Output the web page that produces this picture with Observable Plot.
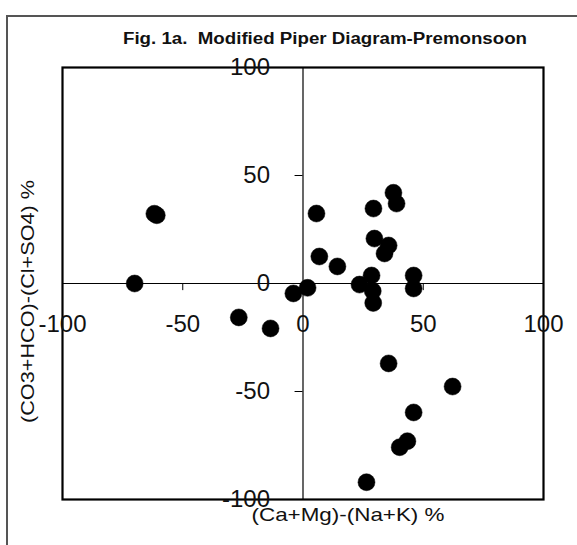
<!DOCTYPE html>
<html>
<head>
<meta charset="utf-8">
<script src="https://cdn.jsdelivr.net/npm/d3@7"></script>
<script src="https://cdn.jsdelivr.net/npm/@observablehq/plot@0.6"></script>
<style>
  html, body { margin: 0; padding: 0; background: #fff; }
  #wrap { position: relative; width: 577px; height: 545px; }
  #border { position: absolute; left: 6px; top: 15px; right: 0; bottom: 0;
            border-left: 2px solid #555; border-top: 2px solid #555; }
  #chart { position: absolute; left: 0; top: 0; }
  svg text { font-family: Arial, "Liberation Sans", sans-serif; }
</style>
</head>
<body>
<div id="wrap"><div id="border"></div><div id="chart"></div></div>
<script>
const titleText = "Fig. 1a.  Modified Piper Diagram-Premonsoon";
const xLabel = "(Ca+Mg)-(Na+K) %";
const yLabel = "(CO3+HCO)-(Cl+SO4) %";
const xTicks = [-100, -50, 0, 50, 100];
const yTicks = [-100, -50, 0, 50, 100];
const cationDiff = [-61.8, -60.8, -70, -26.7, -13.5, -4, 1.9, 5.6, 6.8, 14.3, 29.3, 37.6, 38.9, 29.7, 35.6, 33.9, 28.5, 23.5, 29, 29.2, 46, 46, 35.6, 62.2, 46, 43.4, 40.2, 26.4];
const anionDiff  = [32.3, 31.6, 0, -15.7, -20.8, -4.6, -2, 32.4, 12.5, 7.9, 34.7, 42, 37, 20.8, 17.6, 13.9, 3.7, -0.5, -3.5, -9, 3.7, -2.3, -37, -47.7, -59.7, -73, -75.8, -92];

const pts = cationDiff.map((x, i) => ({x, y: anionDiff[i]}));

const plot = Plot.plot({
  width: 577,
  height: 545,
  marginLeft: 62,
  marginRight: 34,
  marginTop: 67,
  marginBottom: 46,
  style: {background: "transparent", overflow: "visible"},
  x: {domain: [-100, 100], axis: null},
  y: {domain: [-100, 100], axis: null},
  marks: [
    Plot.ruleX([0], {stroke: "black", strokeWidth: 1.2}),
    Plot.ruleY([0], {stroke: "black", strokeWidth: 1.2}),
    Plot.ruleX(xTicks.filter(d => Math.abs(d) !== 100 && d !== 0), {x: d => d, y1: 0, y2: -3.3, stroke: "black"}),
    Plot.ruleY(yTicks.filter(d => Math.abs(d) !== 100 && d !== 0), {y: d => d, x1: -3.3, x2: 0, stroke: "black"}),
    Plot.frame({stroke: "black", strokeWidth: 2.2}),
    Plot.text(xTicks, {x: d => d, y: 0, dy: 41, text: d => String(d), fontSize: 24, fill: "#111", textAnchor: "middle"}),
    Plot.text(yTicks, {y: d => d, x: 0, dx: -33, text: d => String(d), fontSize: 24, fill: "#111", textAnchor: "end"}),
    Plot.dot(pts, {x: "x", y: "y", r: 8.5, fill: "black", stroke: "black", strokeWidth: 0.5}),
    Plot.text([titleText], {frameAnchor: "top", dy: -35, dx: 22, textAnchor: "middle", fontSize: 16, fontWeight: "bold", fill: "#111"}),
    Plot.text([xLabel], {frameAnchor: "bottom", dy: 21, dx: 45, textAnchor: "middle", fontSize: 19, fill: "#111"}),
    Plot.text([yLabel], {frameAnchor: "left", dx: -34, dy: 18, rotate: -90, textAnchor: "middle", fontSize: 18, fill: "#111"})
  ]
});

document.getElementById("chart").appendChild(plot);
const fitLen = {[titleText]: 404, [xLabel]: 193, [yLabel]: 243};
d3.select(plot).selectAll("text").each(function() {
  const t = this.textContent;
  if (fitLen[t]) {
    this.setAttribute("textLength", fitLen[t]);
    this.setAttribute("lengthAdjust", "spacingAndGlyphs");
  }
});
</script>
</body>
</html>
